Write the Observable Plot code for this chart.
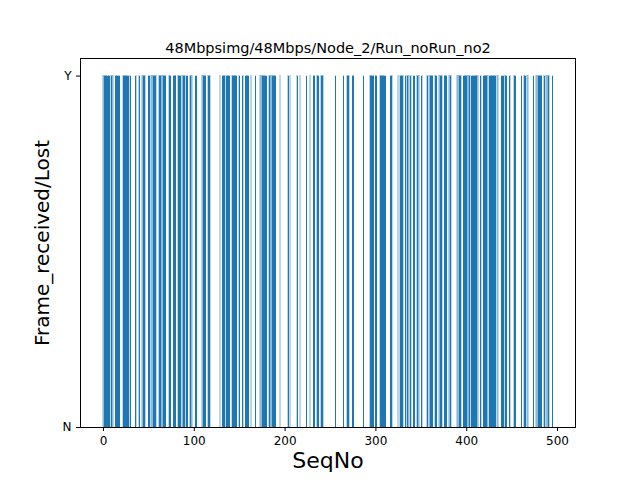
<!DOCTYPE html>
<html>
<head>
<meta charset="utf-8">
<script src="https://cdn.jsdelivr.net/npm/d3@7"></script>
<script src="https://cdn.jsdelivr.net/npm/@observablehq/plot@0.6"></script>
<style>
  body { margin: 0; background: #fff; }
  svg { font-family: "DejaVu Sans", sans-serif; }
  svg g[aria-label$="tick label"] { font-size: 12px; }
</style>
</head>
<body>
<div id="chart"></div>
<script>
// runs of received frames (SeqNo from..to)
const receivedRuns = [
  [0,7],[9,11],[14,18],[22,28],[30,30],[36,36],[40,40],[43,46],[50,51],[53,58],
  [62,69],[73,74],[78,80],[83,85],[87,90],[92,93],[96,98],[102,103],[109,113],[116,118],
  [129,129],[132,134],[136,139],[142,147],[150,150],[154,154],[157,160],[163,163],[168,168],
  [173,180],[183,190],[195,195],[204,204],[206,206],[214,214],[217,217],[224,224],[228,228],
  [232,233],[236,237],[240,242],
  [256,256],[265,265],[269,271],[275,276],[287,287],[294,298],[300,301],[305,311],[317,318],
  [325,325],[327,330],[333,333],[335,337],[339,339],[342,343],[346,348],[351,351],[357,357],
  [359,363],[366,367],[370,373],[376,378],
  [381,383],[390,394],[397,404],[406,413],[416,416],[419,424],[426,432],[434,435],[439,441],
  [443,444],[448,448],[453,454],[461,461],[464,465],[467,468],[474,474],[477,483],[486,486],
  [488,491],[495,495]
];
const yTickLabels = ["N", "Y"];
const title = "48Mbpsimg/48Mbps/Node_2/Run_noRun_no2";

const received = receivedRuns.flatMap(([a, b]) => d3.range(a, b + 1));

const chart = Plot.plot({
  width: 640,
  height: 480,
  marginLeft: 80,
  marginRight: 65,
  marginTop: 58,
  marginBottom: 53,
  style: {fontSize: "12px", fontFamily: "DejaVu Sans, sans-serif", color: "#000"},
  x: {domain: [-25.3, 519.8], ticks: [0, 100, 200, 300, 400, 500], tickSize: 4, label: null},
  y: {domain: [0, 1.05], ticks: [0, 1], tickFormat: d => yTickLabels[d], tickSize: 4, label: null},
  marks: [
    Plot.rectY(received, {x1: d => d - 0.4, x2: d => d + 0.4, y1: 0, y2: 1, fill: "#1f77b4", stroke: "#1f77b4", strokeWidth: 0.3, shapeRendering: "crispEdges"}),
    Plot.frame({stroke: "#000"}),
    Plot.text([title], {frameAnchor: "top", dy: -16, fontSize: 14.5}),
    Plot.text(["SeqNo"], {frameAnchor: "bottom", dy: 40, fontSize: 22}),
    Plot.text(["Frame_received/Lost"], {frameAnchor: "left", dx: -38, rotate: -90, textAnchor: "middle", fontSize: 20})
  ]
});

d3.select("#chart").append(() => chart);
</script>
</body>
</html>
